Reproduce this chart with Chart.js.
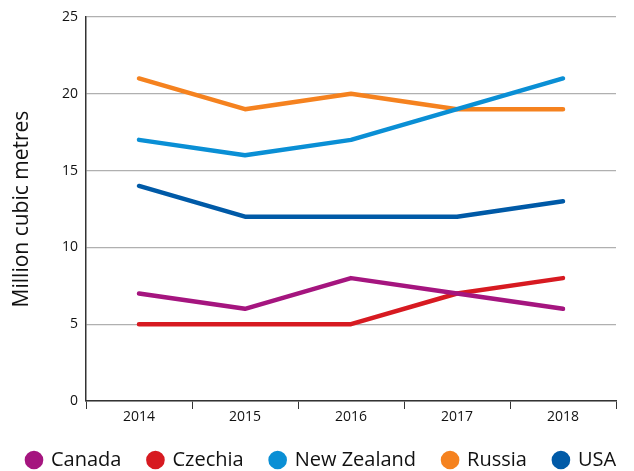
<!DOCTYPE html>
<html>
<head>
<meta charset="utf-8">
<script src="https://cdn.jsdelivr.net/npm/chart.js@4"></script>
<style>
  html, body { margin: 0; padding: 0; background: #fff; }
  #wrap { width: 634px; height: 471px; }
</style>
</head>
<body>
<div id="wrap"><canvas id="woodChart" width="634" height="471"></canvas></div>
<script>
// Données (millions de m3)
const years = ['2014', '2015', '2016', '2017', '2018'];
const canada = [7, 6, 8, 7, 6];
const czechia = [5, 5, 5, 7, 8];
const newZealand = [17, 16, 17, 19, 21];
const russia = [21, 19, 20, 19, 19];
const usa = [14, 12, 12, 12, 13];
const yTicks = [0, 5, 10, 15, 20, 25];

function serie(label, data, color) {
    return {
        label: label,
        data: data,
        borderColor: color,
        backgroundColor: color,
        borderWidth: 4.5,
        borderCapStyle: 'round',
        borderJoinStyle: 'round',
        pointRadius: 0,
        pointHoverRadius: 0,
        pointStyle: 'circle',
        tension: 0,
        fill: false
    };
}

Chart.defaults.font.family = '"Open Sans", "Noto Sans", sans-serif';
Chart.defaults.color = '#111';

const ctx = document.getElementById('woodChart').getContext('2d');
new Chart(ctx, {
    type: 'line',
    data: {
        labels: years,
        datasets: [
            serie('Canada', canada, '#a5157f'),
            serie('Czechia', czechia, '#d71a21'),
            serie('New Zealand', newZealand, '#0a8fd5'),
            serie('Russia', russia, '#f5821f'),
            serie('USA', usa, '#005aa7')
        ]
    },
    options: {
        responsive: false,
        animation: false,
        // marges négatives : la légende tient sur une ligne
        layout: { padding: { top: 17, right: -40, left: 0, bottom: -9 } },
        plugins: {
            tooltip: { enabled: false },
            legend: {
                position: 'bottom',
                align: 'start',
                labels: {
                    usePointStyle: true,
                    boxWidth: 14,
                    boxHeight: 10,
                    padding: 27,
                    font: { size: 20 },
                    color: '#111'
                }
            }
        },
        scales: {
            x: {
                offset: true,
                grid: {
                    offset: true,
                    drawOnChartArea: false,
                    drawTicks: true,
                    tickLength: 8,
                    color: '#333'
                },
                border: { display: true, color: '#333', width: 1.5 },
                ticks: { font: { size: 14 }, padding: 0, color: '#111' },
                afterFit: function (scale) { scale.height = 22; }
            },
            y: {
                min: 0,
                max: 25,
                afterBuildTicks: function (scale) {
                    scale.ticks = yTicks.map(v => ({ value: v }));
                },
                grid: { color: '#b0b0b0', lineWidth: 1.3, drawTicks: false },
                border: { display: true, color: '#333', width: 1.5 },
                ticks: { font: { size: 14 }, padding: 8, color: '#111' },
                title: {
                    display: true,
                    text: 'Million cubic metres',
                    font: { size: 21 },
                    color: '#111',
                    padding: { top: 9, bottom: 0 }
                },
                afterFit: function (scale) { scale.width = 86; }
            },
            // axe vide à droite pour garder la zone du graphique
            yRight: {
                position: 'right',
                display: true,
                grid: { display: false },
                border: { display: false },
                ticks: { display: false },
                afterFit: function (scale) { scale.width = 58; }
            }
        }
    }
});
</script>
</body>
</html>
